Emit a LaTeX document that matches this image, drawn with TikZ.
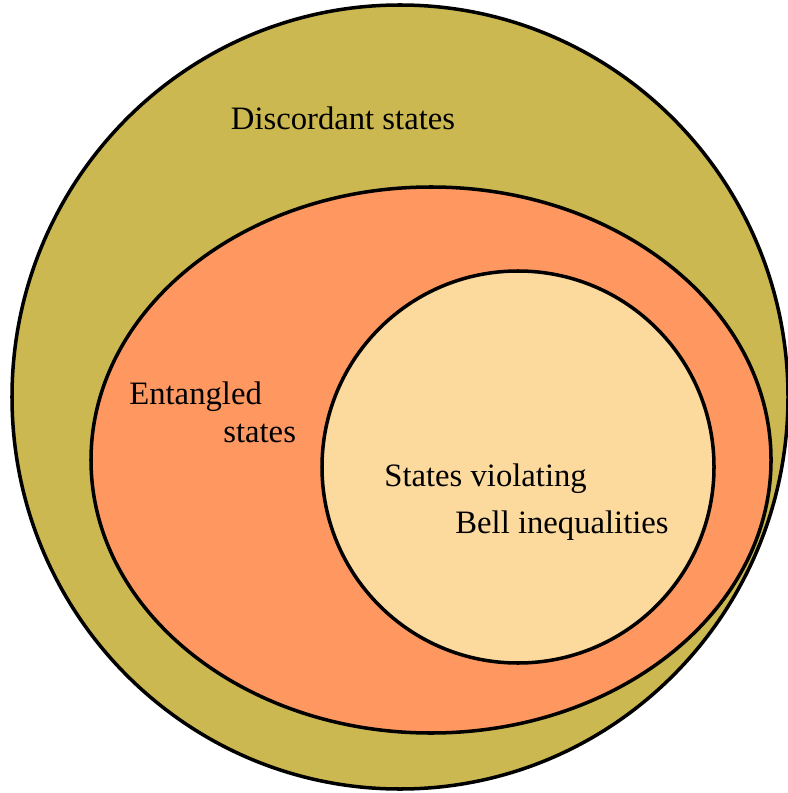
\documentclass[tikz,border=0pt]{standalone}
\usepackage{fontspec}
\setmainfont{Liberation Serif}

\definecolor{discordcol}{HTML}{CBB850}
\definecolor{entanglecol}{HTML}{FE9860}
\definecolor{bellcol}{HTML}{FCDA9E}

\tikzset{
  setline/.style={line width=2pt, draw=black},
  setlabel/.style={inner sep=0pt, font=\fontsize{18.6}{22}\selectfont}
}

\begin{document}
\begin{tikzpicture}[x=0.02cm, y=-0.02cm]
    \useasboundingbox (0,0) rectangle (787,793);

    % Discordant states (outer set)
    \draw[setline, fill=discordcol] (400,397) ellipse [x radius=388, y radius=392];

    % Entangled states
    \draw[setline, fill=entanglecol] (431,460) ellipse [x radius=340, y radius=273];

    % States violating Bell inequalities
    \draw[setline, fill=bellcol] (518,467) circle [radius=196];

    % Labels
    \node[setlabel, anchor=base] (discord) at (343,130) {Discordant states};
    \node[setlabel, anchor=base west] (ent1) at (129,404) {Entangled};
    \node[setlabel, anchor=base west] (ent2) at (223,442) {states};
    \node[setlabel, anchor=base west] (bell1) at (384,486) {States violating};
    \node[setlabel, anchor=base west] (bell2) at (455,533) {Bell inequalities};
\end{tikzpicture}
\end{document}
